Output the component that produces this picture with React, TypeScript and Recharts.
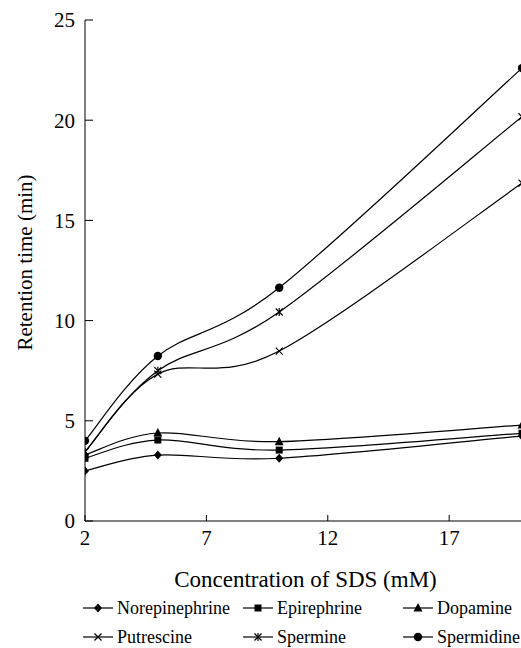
import React from "react";
import { LineChart, Line, XAxis, YAxis, Label } from "recharts";

const SDS_MM = [2, 5, 10, 20];
const NOREPINEPHRINE = [2.5, 3.29, 3.13, 4.24];
const EPINEPHRINE = [3.13, 4.04, 3.54, 4.38];
const DOPAMINE = [3.3, 4.39, 3.96, 4.79];
const PUTRESCINE = [3.46, 7.33, 8.48, 16.86];
const SPERMINE = [3.46, 7.5, 10.43, 20.17];
const SPERMIDINE = [4.0, 8.23, 11.64, 22.6];

const X_TICKS = [2, 7, 12, 17];
const Y_TICKS = [0, 5, 10, 15, 20, 25];

type MarkerKind = "diamond" | "square" | "triangle" | "cross" | "star" | "circle";

const SERIES: { key: string; name: string; values: number[]; marker: MarkerKind }[] = [
  { key: "nor", name: "Norepinephrine", values: NOREPINEPHRINE, marker: "diamond" },
  { key: "epi", name: "Epirephrine", values: EPINEPHRINE, marker: "square" },
  { key: "dop", name: "Dopamine", values: DOPAMINE, marker: "triangle" },
  { key: "put", name: "Putrescine", values: PUTRESCINE, marker: "cross" },
  { key: "spm", name: "Spermine", values: SPERMINE, marker: "star" },
  { key: "spd", name: "Spermidine", values: SPERMIDINE, marker: "circle" },
];

const rows = SDS_MM.map((x, i) => {
  const row: Record<string, number> = { x };
  SERIES.forEach((s) => (row[s.key] = s.values[i]));
  return row;
});

const FONT =
  "'Times New Roman', Times, Tinos, 'Liberation Serif', 'Nimbus Roman', 'Noto Serif', 'DejaVu Serif', FreeSerif, serif";

// spreadsheet-style smoothing (Catmull-Rom in screen space)
function smoothCurve(context: any) {
  let pts: [number, number][] = [];
  return {
    areaStart() {},
    areaEnd() {},
    lineStart() {
      pts = [];
    },
    point(x: number, y: number) {
      pts.push([+x, +y]);
    },
    lineEnd() {
      const n = pts.length;
      if (!n) return;
      context.moveTo(pts[0][0], pts[0][1]);
      for (let i = 0; i < n - 1; i++) {
        const p0 = pts[i - 1] || pts[i];
        const p1 = pts[i];
        const p2 = pts[i + 1];
        const p3 = pts[i + 2] || p2;
        context.bezierCurveTo(
          p1[0] + (p2[0] - p0[0]) / 6,
          p1[1] + (p2[1] - p0[1]) / 6,
          p2[0] - (p3[0] - p1[0]) / 6,
          p2[1] - (p3[1] - p1[1]) / 6,
          p2[0],
          p2[1]
        );
      }
    },
  };
}

function Marker({ kind, cx, cy }: { kind: MarkerKind; cx: number; cy: number }) {
  switch (kind) {
    case "diamond":
      return (
        <polygon
          points={`${cx},${cy - 4.5} ${cx + 4},${cy} ${cx},${cy + 4.5} ${cx - 4},${cy}`}
          fill="#000"
        />
      );
    case "square":
      return <rect x={cx - 3.5} y={cy - 3.5} width={7} height={7} fill="#000" />;
    case "triangle":
      return (
        <polygon
          points={`${cx},${cy - 5} ${cx + 4.5},${cy + 3.5} ${cx - 4.5},${cy + 3.5}`}
          fill="#000"
        />
      );
    case "cross":
      return (
        <g stroke="#000" strokeWidth={1.2}>
          <line x1={cx - 3.5} y1={cy - 3.5} x2={cx + 3.5} y2={cy + 3.5} />
          <line x1={cx - 3.5} y1={cy + 3.5} x2={cx + 3.5} y2={cy - 3.5} />
        </g>
      );
    case "star":
      return (
        <g stroke="#000" strokeWidth={1.2}>
          <line x1={cx - 3.5} y1={cy - 3.5} x2={cx + 3.5} y2={cy + 3.5} />
          <line x1={cx - 3.5} y1={cy + 3.5} x2={cx + 3.5} y2={cy - 3.5} />
          <line x1={cx} y1={cy - 4} x2={cx} y2={cy + 4} />
        </g>
      );
    default:
      return <circle cx={cx} cy={cy} r={4.2} fill="#000" />;
  }
}

// legend is laid out by hand: three columns, two rows
const LEGEND_COLS = [117, 277, 437];
const LEGEND_ROWS = [608, 637];

function LegendBlock() {
  return (
    <>
      {SERIES.map((s, i) => {
        const left = LEGEND_COLS[i % 3];
        const top = LEGEND_ROWS[Math.floor(i / 3)];
        return (
          <div
            key={s.key}
            style={{
              position: "absolute",
              left: left - 34,
              top: top - 10,
              height: 20,
              lineHeight: "20px",
              display: "flex",
              alignItems: "center",
              fontFamily: FONT,
              fontSize: 18,
              color: "#000",
              whiteSpace: "nowrap",
            }}
          >
            <svg width={30} height={12} style={{ marginRight: 4 }}>
              <line x1={0} y1={6} x2={30} y2={6} stroke="#000" strokeWidth={1.2} />
              <Marker kind={s.marker} cx={15} cy={6} />
            </svg>
            <span>{s.name}</span>
          </div>
        );
      })}
    </>
  );
}

export default function App() {
  return (
    <div
      style={{
        position: "fixed",
        top: 0,
        left: 0,
        width: 521,
        height: 648,
        overflow: "hidden",
        background: "#fff",
        fontFamily: FONT,
      }}
    >
      <LineChart
        width={530}
        height={648}
        data={rows}
        margin={{ top: 20, right: 8, bottom: 0, left: 0 }}
      >
        <XAxis
          dataKey="x"
          type="number"
          domain={[2, 20]}
          ticks={X_TICKS}
          allowDataOverflow
          height={127}
          stroke="#000"
          tickSize={-6}
          tickMargin={15}
          tick={{ fill: "#000", fontSize: 21, fontFamily: FONT }}
        >
          <Label
            content={({ viewBox }: any) => (
              <text
                x={viewBox.x + viewBox.width / 2 + 2}
                y={587}
                textAnchor="middle"
                fontFamily={FONT}
                fontSize={23}
                fill="#000"
              >
                Concentration of SDS (mM)
              </text>
            )}
          />
        </XAxis>
        <YAxis
          width={85}
          domain={[0, 25]}
          ticks={Y_TICKS}
          stroke="#000"
          tickSize={-8}
          tickMargin={18}
          tick={{ fill: "#000", fontSize: 21, fontFamily: FONT }}
        >
          <Label
            content={({ viewBox }: any) => {
              const cy = viewBox.y + viewBox.height / 2 - 8;
              return (
                <text
                  x={32}
                  y={cy}
                  transform={`rotate(-90 32 ${cy})`}
                  textAnchor="middle"
                  fontFamily={FONT}
                  fontSize={21}
                  fill="#000"
                >
                  Retention time (min)
                </text>
              );
            }}
          />
        </YAxis>
        {SERIES.map((s) => (
          <Line
            key={s.key}
            dataKey={s.key}
            name={s.name}
            type={smoothCurve as any}
            stroke="#000"
            strokeWidth={1.2}
            isAnimationActive={false}
            dot={(p: any) => (
              <Marker key={`${s.key}-${p.index}`} kind={s.marker} cx={p.cx} cy={p.cy} />
            )}
            activeDot={false}
          />
        ))}
      </LineChart>
      <LegendBlock />
    </div>
  );
}
